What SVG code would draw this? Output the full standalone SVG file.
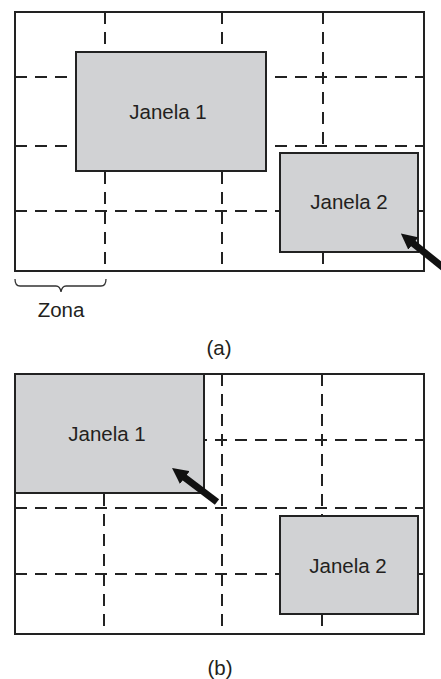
<svg xmlns="http://www.w3.org/2000/svg" width="441" height="679" viewBox="0 0 441 679">
<style>
.frame{fill:none;stroke:#222;stroke-width:2}
.grid{fill:none;stroke:#222;stroke-width:2;stroke-dasharray:12 8}
.win{fill:#d1d2d4;stroke:#222;stroke-width:2}
.lbl{font-family:"Liberation Sans",Arial,sans-serif;font-size:20.5px;fill:#231f20;text-anchor:middle}
.arrow{stroke:#111;stroke-width:7;fill:none}
.brace{fill:none;stroke:#333;stroke-width:1.3}
</style>
<defs>
<marker id="head" viewBox="0 0 16 16" markerWidth="16" markerHeight="16" refX="4" refY="8" orient="auto" markerUnits="userSpaceOnUse">
<path d="M0,0 L16,8 L0,16 z" fill="#111"/>
</marker>
</defs>
<rect width="441" height="679" fill="#fff"/>
<g id="diagram-a">
<g id="grid-a">
<line class="grid" x1="105" y1="12" x2="105" y2="271"/>
<line class="grid" x1="222" y1="12" x2="222" y2="271"/>
<line class="grid" x1="323" y1="12" x2="323" y2="271"/>
<line class="grid" x1="15" y1="77" x2="424" y2="77"/>
<line class="grid" x1="15" y1="146" x2="424" y2="146"/>
<line class="grid" x1="15" y1="211" x2="424" y2="211"/>
<rect class="frame" x="15" y="12" width="409" height="259"/>
</g>
<g id="a-janela1">
<rect class="win" x="76" y="52" width="190" height="119"/>
<text class="lbl" x="168" y="119">Janela 1</text>
</g>
<g id="a-janela2">
<rect class="win" x="280" y="153" width="138" height="99"/>
<text class="lbl" x="349" y="209">Janela 2</text>
</g>
<g id="a-zona">
<path class="brace" d="M15,279 Q15,286 20,286 L56,286 Q60,286 61,292 Q62,286 66,286 L101,286 Q106,286 106,279"/>
<text class="lbl" x="61" y="317">Zona</text>
</g>
<text class="lbl" x="219" y="355">(a)</text>
</g>
<g id="diagram-b">
<g id="grid-b">
<line class="grid" x1="104" y1="374" x2="104" y2="634"/>
<line class="grid" x1="222" y1="374" x2="222" y2="634"/>
<line class="grid" x1="322" y1="374" x2="322" y2="634"/>
<line class="grid" x1="15" y1="440" x2="424" y2="440"/>
<line class="grid" x1="15" y1="508" x2="424" y2="508"/>
<line class="grid" x1="15" y1="574" x2="424" y2="574"/>
<rect class="frame" x="15" y="374" width="409" height="260"/>
</g>
<g id="b-janela1">
<rect class="win" x="15" y="374" width="189" height="119"/>
<text class="lbl" x="107" y="441">Janela 1</text>
</g>
<g id="b-janela2">
<rect class="win" x="280" y="516" width="138" height="98"/>
<text class="lbl" x="348" y="573">Janela 2</text>
</g>
<text class="lbl" x="220" y="675">(b)</text>
</g>
<g id="connectors">
<line class="arrow" x1="445" y1="269" x2="410.2" y2="241" marker-end="url(#head)"/>
<line class="arrow" x1="217" y1="502" x2="181.6" y2="475.2" marker-end="url(#head)"/>
</g>
</svg>
